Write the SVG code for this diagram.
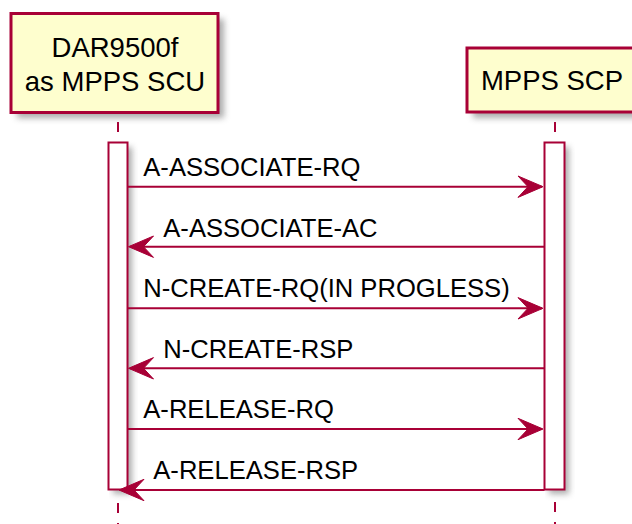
<svg xmlns="http://www.w3.org/2000/svg" width="632" height="524" viewBox="0 0 632 524">
<style>
.part{fill:#FEFECE;stroke:#A80036;stroke-width:3}
.act{fill:#FFFFFF;stroke:#A80036;stroke-width:2}
.life{stroke:#A80036;stroke-width:2;stroke-dasharray:10,10;fill:none}
.msg{stroke:#A80036;stroke-width:2;fill:none}
.head{fill:#A80036;stroke:#A80036;stroke-width:1}
.pt{font-family:"Liberation Sans",Arial,sans-serif;font-size:27.5px;fill:#000;text-anchor:middle}
.mt{font-family:"Liberation Sans",Arial,sans-serif;font-size:25.6px;fill:#000}
</style>
<defs>
<filter id="sh" x="-20%" y="-20%" width="150%" height="150%">
<feGaussianBlur stdDeviation="3"/>
</filter>
</defs>
<g id="lifelines">
<line class="life" x1="118" y1="122" x2="118" y2="142"/>
<line class="life" x1="118" y1="503" x2="118" y2="530"/>
<line class="life" x1="555" y1="122" x2="555" y2="142"/>
<line class="life" x1="555" y1="502" x2="555" y2="530"/>
</g>
<g id="p1">
<rect x="17" y="19" width="207" height="99" fill="#888" opacity="0.7" filter="url(#sh)"/>
<rect class="part" x="11" y="13.5" width="207" height="99"/>
<text class="pt" x="115" y="57">DAR9500f</text>
<text class="pt" x="115" y="91">as MPPS SCU</text>
</g>
<g id="p2">
<rect x="473" y="54" width="176" height="64" fill="#888" opacity="0.7" filter="url(#sh)"/>
<rect class="part" x="467" y="48" width="176" height="64"/>
<text class="pt" x="552" y="90">MPPS SCP</text>
</g>
<g id="a1">
<rect x="113" y="147" width="19" height="347" fill="#888" opacity="0.7" filter="url(#sh)"/>
<rect class="act" x="108.5" y="142.5" width="19" height="347"/>
</g>
<g id="a2">
<rect x="549" y="147" width="20" height="347" fill="#888" opacity="0.7" filter="url(#sh)"/>
<rect class="act" x="544.5" y="142.5" width="20" height="347"/>
</g>
<g id="connectors">
<line class="msg" x1="127.5" y1="186.7" x2="542" y2="186.7"/>
<polygon class="head" points="543,186.7 518,176 528,186.7 518,197.4"/>
<line class="msg" x1="130" y1="246.7" x2="544.5" y2="246.7"/>
<polygon class="head" points="128.5,246.7 153.5,236 143.5,246.7 153.5,257.4"/>
<line class="msg" x1="127.5" y1="308.3" x2="542" y2="308.3"/>
<polygon class="head" points="543,308.3 518,297.6 528,308.3 518,319"/>
<line class="msg" x1="130" y1="368.3" x2="544.5" y2="368.3"/>
<polygon class="head" points="128.5,368.3 153.5,357.6 143.5,368.3 153.5,379"/>
<line class="msg" x1="127.5" y1="429" x2="542" y2="429"/>
<polygon class="head" points="543,429 518,418.3 528,429 518,439.7"/>
<line class="msg" x1="122" y1="490" x2="544.5" y2="490"/>
<polygon class="head" points="119,490 144,479.3 134,490 144,500.7"/>
</g>
<g id="labels">
<text class="mt" x="143.3" y="175.5">A-ASSOCIATE-RQ</text>
<text class="mt" x="163.3" y="236.5">A-ASSOCIATE-AC</text>
<text class="mt" x="143.3" y="296.5">N-CREATE-RQ(IN PROGLESS)</text>
<text class="mt" x="163.3" y="357.5">N-CREATE-RSP</text>
<text class="mt" x="143.3" y="418">A-RELEASE-RQ</text>
<text class="mt" x="153.3" y="478.5">A-RELEASE-RSP</text>
</g>
</svg>
